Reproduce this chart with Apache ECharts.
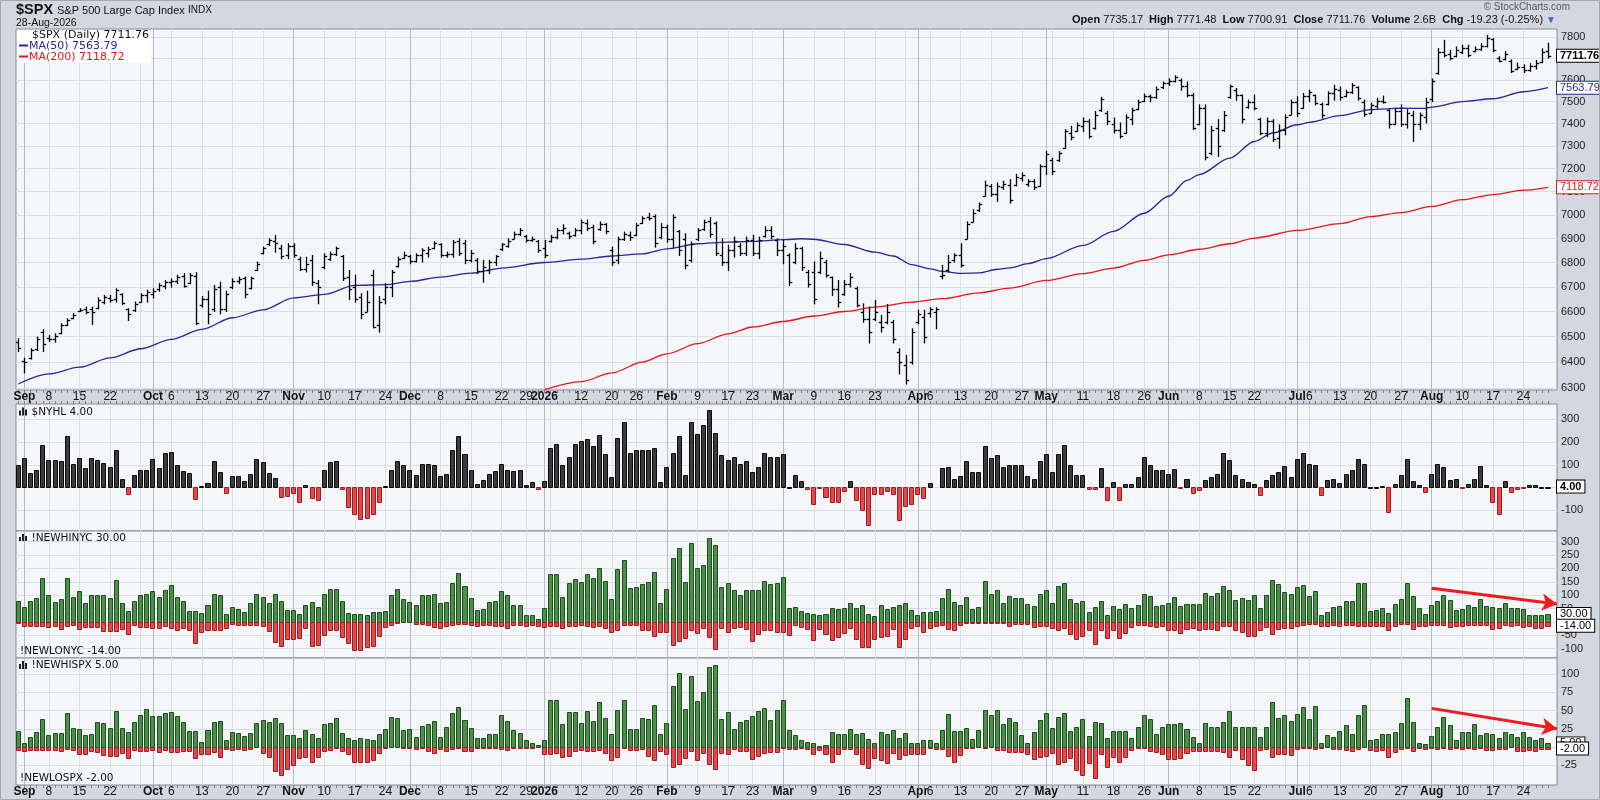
<!DOCTYPE html>
<html><head><meta charset="utf-8">
<script src="https://cdn.jsdelivr.net/npm/echarts@6/dist/echarts.min.js"></script>
<style>html,body{margin:0;padding:0;background:#d3d7df;}#chart{width:1600px;height:800px;}</style>
</head><body><div id="chart"></div>
<script>
// ---------- calendar (categories) ----------
const START_DATE = '2025-08-29', END_DATE = '2026-08-28';
const HOLIDAYS = ['2025-09-01','2025-11-27','2025-12-25','2026-01-01','2026-01-19','2026-02-16','2026-04-03','2026-05-25','2026-06-19','2026-07-03'];
const MONTH_NAMES = ['Jan','Feb','Mar','Apr','May','Jun','Jul','Aug','Sep','Oct','Nov','Dec'];

// ---------- price data ($SPX daily OHLC) ----------
const OPEN = [6480,6405,6415,6450,6520,6495,6490,6515,6548,6575,
6602,6610,6612,6615,6640,6655,6650,6670,6610,6605,
6640,6665,6670,6690,6705,6720,6725,6745,6715,6745,
6625,6650,6610,6700,6610,6700,6725,6735,6695,6770,
6840,6875,6890,6860,6830,6870,6815,6775,6810,6715,
6780,6815,6835,6825,6740,6700,6660,6600,6750,6545,
6650,6700,6785,6820,6825,6805,6830,6840,6860,6875,
6830,6835,6890,6880,6810,6810,6765,6770,6800,6855,
6870,6900,6920,6910,6895,6890,6860,6890,6905,6935,
6925,6915,6935,6965,6950,6940,6960,6850,6810,6900,
6915,6915,6965,6990,6995,6905,6950,6900,6930,6900,
6810,6900,6940,6975,6965,6830,6800,6850,6870,6840,
6895,6840,6910,6935,6895,6850,6830,6800,6860,6760,
6760,6760,6800,6740,6690,6670,6710,6695,6600,6570,
6570,6560,6560,6560,6440,6390,6400,6560,6580,6595,
6600,6745,6770,6810,6830,6900,6970,7020,7080,7125,
7090,7120,7130,7130,7160,7135,7145,7125,7210,7240,
7240,7290,7360,7365,7390,7410,7380,7460,7450,7400,
7370,7360,7420,7465,7505,7525,7520,7565,7585,7595,
7600,7570,7530,7400,7470,7270,7380,7370,7520,7555,
7530,7475,7500,7420,7360,7410,7335,7370,7440,7500,
7470,7525,7530,7490,7490,7540,7555,7525,7545,7565,
7500,7450,7480,7505,7460,7400,7455,7400,7440,7400,
7430,7510,7630,7730,7720,7710,7730,7750,7735,7745,
7760,7790,7700,7695,7690,7650,7660,7645,7665,7685,
7735.17];
const HIGH = [6491,6415,6452,6498,6527,6504,6511,6551,6571,6591,
6611,6618,6618,6655,6665,6665,6692,6672,6611,6638,
6672,6686,6692,6713,6726,6733,6747,6754,6754,6758,
6660,6682,6706,6719,6682,6733,6740,6740,6740,6802,
6864,6899,6913,6871,6878,6878,6822,6822,6829,6726,
6836,6843,6864,6829,6767,6747,6672,6682,6767,6660,
6713,6767,6822,6843,6829,6836,6857,6864,6887,6878,
6843,6892,6899,6892,6850,6816,6809,6809,6829,6878,
6899,6927,6942,6913,6906,6892,6892,6913,6942,6958,
6927,6942,6978,6978,6956,6970,6963,6864,6906,6927,
6927,6963,6992,7007,7000,6963,6956,7000,6934,6920,
6885,6942,6978,6989,6970,6899,6871,6906,6878,6906,
6913,6906,6949,6949,6899,6892,6836,6878,6864,6767,
6802,6843,6809,6740,6726,6726,6754,6699,6631,6618,
6645,6584,6628,6564,6452,6426,6531,6605,6605,6615,
6615,6788,6829,6836,6878,6970,7022,7051,7145,7130,
7138,7145,7152,7175,7182,7152,7152,7217,7275,7246,
7275,7373,7388,7403,7425,7418,7455,7519,7455,7425,
7403,7440,7470,7507,7534,7530,7567,7590,7604,7619,
7604,7590,7537,7485,7485,7388,7418,7455,7575,7560,
7530,7507,7530,7425,7425,7418,7395,7440,7507,7522,
7537,7552,7530,7493,7545,7575,7567,7552,7582,7567,
7507,7493,7515,7525,7463,7470,7485,7463,7455,7448,
7515,7604,7746,7785,7738,7754,7762,7762,7754,7769,
7808,7792,7708,7731,7693,7678,7670,7675,7690,7745,
7771.48];
const LOW = [6441,6358,6412,6445,6441,6481,6478,6511,6544,6571,
6600,6591,6548,6611,6631,6638,6638,6628,6564,6600,
6638,6638,6655,6682,6692,6699,6713,6699,6713,6548,
6618,6551,6600,6591,6600,6692,6713,6655,6692,6767,
6836,6871,6843,6816,6816,6822,6767,6761,6706,6631,
6774,6809,6829,6726,6648,6638,6571,6600,6535,6518,
6631,6660,6781,6816,6795,6802,6802,6822,6857,6822,
6822,6822,6829,6795,6802,6754,6719,6754,6788,6850,
6864,6899,6913,6885,6888,6843,6820,6885,6899,6920,
6899,6910,6920,6934,6878,6934,6920,6788,6795,6892,
6892,6913,6963,6978,6864,6899,6885,6864,6829,6774,
6802,6892,6934,6906,6829,6788,6767,6822,6829,6829,
6829,6816,6906,6899,6829,6795,6706,6795,6767,6699,
6631,6754,6740,6665,6618,6665,6699,6618,6557,6475,
6564,6518,6551,6475,6354,6315,6392,6551,6475,6578,
6531,6733,6761,6802,6781,6899,6970,7015,7080,7080,
7058,7110,7050,7125,7145,7123,7109,7123,7174,7174,
7232,7290,7327,7365,7365,7335,7376,7455,7395,7358,
7335,7358,7395,7463,7500,7500,7515,7560,7575,7590,
7552,7522,7373,7395,7239,7261,7254,7365,7515,7507,
7403,7470,7463,7350,7342,7320,7290,7350,7440,7433,
7470,7500,7485,7425,7485,7507,7507,7522,7537,7507,
7433,7448,7470,7493,7380,7395,7388,7380,7320,7373,
7403,7500,7626,7707,7693,7707,7723,7707,7731,7738,
7754,7731,7685,7693,7634,7648,7634,7640,7650,7680,
7700.91];
const CLOSE = [6455,6400,6448,6492,6470,6490,6502,6545,6565,6585,
6608,6600,6598,6648,6658,6645,6688,6635,6590,6630,
6665,6680,6685,6708,6720,6725,6740,6705,6748,6555,
6650,6590,6690,6610,6670,6725,6730,6670,6735,6795,
6860,6893,6880,6825,6870,6830,6775,6795,6720,6700,
6825,6835,6860,6735,6690,6650,6590,6640,6540,6640,
6700,6760,6815,6830,6805,6830,6850,6855,6880,6830,
6835,6885,6840,6810,6840,6765,6780,6800,6825,6875,
6890,6920,6935,6895,6900,6850,6830,6905,6935,6945,
6910,6935,6970,6945,6890,6962,6930,6800,6900,6920,
6905,6955,6985,6985,6880,6950,6900,6990,6850,6790,
6875,6935,6970,6920,6840,6800,6850,6890,6840,6895,
6840,6895,6935,6910,6850,6870,6720,6860,6780,6710,
6650,6820,6750,6690,6640,6710,6740,6625,6570,6520,
6600,6540,6600,6490,6400,6330,6520,6590,6500,6610,
6610,6750,6800,6830,6790,6960,7010,7045,7130,7090,
7125,7135,7065,7165,7170,7145,7120,7210,7265,7190,
7270,7365,7340,7395,7410,7345,7440,7510,7410,7370,
7345,7430,7460,7500,7525,7520,7560,7585,7595,7612,
7570,7530,7380,7470,7250,7370,7300,7440,7570,7530,
7420,7500,7470,7360,7410,7330,7370,7430,7500,7450,
7525,7545,7495,7440,7540,7560,7520,7545,7575,7515,
7445,7485,7505,7500,7400,7455,7400,7450,7400,7440,
7500,7595,7730,7715,7700,7740,7750,7715,7745,7760,
7795,7740,7690,7720,7640,7660,7645,7665,7680,7730.99,
7711.76];

// moving averages read at selected bars: [bar index, value]
const MA50 = [[0,6315],[5,6354],[10,6380],[15,6416],[20,6452],[25,6489],[30,6529],[35,6575],[40,6607],[45,6655],
[50,6669],[55,6706],[60,6709],[64,6722],[69,6740],[74,6756],[79,6777],[86,6800],[92,6814],[97,6827],
[102,6836],[106,6857],[111,6878],[116,6885],[120,6888],[125,6895],[128,6899],[130,6897],[135,6875],[140,6843],
[143,6827],[146,6791],[149,6774],[151,6763],[154,6755],[157,6757],[160,6772],[162,6778],[165,6795],[168,6816],
[174,6871],[179,6930],[184,7007],[188,7080],[191,7149],[193,7174],[198,7246],[202,7320],[205,7358],[209,7395],
[211,7406],[216,7436],[221,7463],[226,7470],[230,7469],[231,7475],[236,7500],[241,7513],[246,7545],[250,7563.79]];
const MA200 = [[86,6293],[92,6324],[97,6358],[102,6400],[106,6432],[111,6472],[116,6511],[120,6538],[125,6560],[130,6582],
[135,6600],[140,6618],[146,6638],[151,6652],[157,6675],[162,6695],[168,6726],[174,6754],[179,6777],[184,6809],
[188,6832],[193,6855],[198,6878],[202,6902],[209,6934],[216,6963],[221,6993],[226,7010],[231,7036],[236,7065],
[241,7087],[246,7106],[250,7118.72]];

// ---------- breadth data ----------
const NYHL = [101,131,64,79,187,119,119,116,225,105,
131,87,131,119,109,91,164,37,-30,57,
79,79,124,87,151,157,101,72,64,-51,
7,21,115,67,-25,52,49,30,61,124,
112,64,42,-40,-36,-25,-66,10,-48,-55,
79,112,115,-6,-85,-119,-137,-133,-119,-63,
7,79,116,101,75,57,105,105,100,49,
60,164,225,146,79,15,34,61,72,105,
79,72,79,12,24,-7,30,176,190,97,
136,190,203,212,181,230,149,46,216,288,
154,166,166,166,176,24,91,154,225,55,
288,234,275,342,240,142,122,136,105,118,
70,91,154,136,136,149,1,55,30,-7,
-75,-1,-40,-66,-66,-15,30,-55,-100,-164,
-30,-30,-15,-30,-145,-81,-75,-30,-48,19,
0,87,91,37,51,118,66,70,185,131,
145,91,101,97,100,49,37,115,146,70,
146,187,97,55,55,-7,-7,87,-55,25,
-55,15,15,46,136,97,75,75,61,82,
-3,37,-25,-10,33,46,61,154,122,55,
37,24,15,-33,33,55,66,96,46,125,
154,105,100,-34,31,37,19,60,75,127,
105,1,1,7,-110,15,55,127,30,10,
-21,60,105,91,34,37,-3,15,37,96,
10,-64,-118,30,-19,-7,-1,10,10,3,
4];
const NEWHI_NYC = [80,56,80,90,165,99,76,86,165,94,
116,72,99,101,101,90,157,69,39,80,
101,104,116,94,120,139,94,79,40,41,
34,64,104,99,30,56,49,38,69,103,
94,71,105,80,43,46,30,64,76,56,
105,124,124,80,34,30,30,26,36,36,
41,99,124,84,74,65,101,99,105,71,
74,144,184,134,89,46,49,74,78,116,
99,64,64,26,26,9,52,178,178,94,
146,161,149,178,165,203,154,84,199,233,
125,131,140,150,188,69,124,240,278,151,
296,203,211,315,289,131,146,120,99,120,
121,121,154,140,146,169,52,55,39,34,
30,24,28,52,48,52,71,52,63,30,
21,63,49,56,65,71,43,26,38,38,
39,89,124,76,64,94,49,56,153,106,
120,69,96,90,90,68,59,105,120,71,
134,146,86,71,78,38,56,79,26,59,
49,66,53,63,105,96,59,64,69,94,
60,66,66,66,109,96,109,134,120,81,
91,81,100,52,100,156,140,113,105,131,
139,96,115,25,38,56,59,78,78,146,
146,39,44,51,34,66,86,146,96,51,
30,64,79,100,81,46,48,64,56,86,
59,54,52,71,52,52,49,26,26,26,
30];
const NEWLO_NYC = [-4,-16,-16,-14,-16,-20,-14,-26,-14,-12,
-26,-20,-20,-19,-34,-34,-34,-26,-45,-12,
-19,-19,-24,-24,-16,-24,-29,-24,-29,-79,
-38,-31,-29,-31,-24,-9,-12,-12,-11,-11,
-16,-34,-75,-89,-64,-64,-61,-24,-89,-85,
-49,-31,-31,-56,-79,-106,-106,-94,-89,-51,
-19,-10,-4,0,0,-9,-9,-12,-19,-24,
-16,-12,-6,-9,-12,-14,-12,-12,-16,-16,
-24,-12,-12,-16,-12,-16,-19,-16,-14,-22,
-16,-14,-10,-16,-19,-14,-22,-38,-29,-12,
-10,-10,-32,-32,-54,-38,-38,-85,-73,-60,
-31,-41,-24,-56,-101,-24,-38,-24,-18,-26,
-71,-45,-31,-31,-38,-38,-48,-12,-19,-26,
-66,-26,-45,-66,-56,-41,-22,-63,-94,-94,
-63,-56,-54,-26,-94,-63,-24,-16,-38,-24,
-16,-12,-26,-29,-12,-3,-3,-3,-3,-3,
-5,-4,-14,-8,-8,-8,-20,-16,-14,-22,
-29,-22,-44,-64,-51,-29,-83,-29,-60,-29,
-60,-41,-20,-12,-10,-16,-20,-16,-29,-29,
-41,-26,-24,-29,-26,-26,-31,-16,-16,-29,
-38,-51,-51,-29,-20,-45,-26,-24,-24,-16,
-10,-6,-6,-16,-16,-12,-16,-12,-12,-16,
-16,-16,-16,-16,-32,-16,-6,-6,-26,-16,
-16,-12,-12,-12,-19,-16,-16,-12,-12,-12,
-12,-26,-24,-12,-16,-12,-19,-15,-24,-24,
-14];
const NEWHI_SPX = [22,6,14,21,39,17,19,19,47,26,
25,17,18,34,33,26,50,26,20,34,
44,52,43,43,46,48,42,35,22,22,
7,23,34,36,10,21,19,15,19,33,
37,34,40,33,16,16,12,23,18,13,
32,33,40,19,13,9,12,11,9,18,
25,41,40,24,25,14,29,32,36,14,
28,47,55,37,26,12,12,18,18,44,
36,24,19,9,6,3,10,65,65,31,
48,48,33,50,36,62,40,18,51,65,
25,25,40,39,58,18,33,84,101,52,
97,63,75,109,113,39,48,25,34,37,
43,50,54,37,51,64,23,17,9,7,
5,2,3,21,18,18,25,18,19,11,
6,21,18,23,12,19,6,6,9,9,
6,24,45,22,22,26,11,23,51,44,
51,31,40,34,17,5,21,37,47,26,
41,46,22,28,38,15,35,33,13,22,
22,22,12,28,44,39,18,28,32,32,
33,25,14,6,33,27,28,35,50,28,
28,28,28,14,28,62,40,44,36,45,
55,39,56,6,17,14,22,30,18,44,
58,9,11,18,18,21,33,67,35,6,
4,15,27,41,30,9,20,21,32,17,
19,18,12,21,18,14,21,14,9,12,
5];
const NEWLO_SPX = [-4,-5,-4,-4,-4,-4,-4,-6,-3,-4,
-9,-9,-6,-7,-11,-12,-12,-8,-15,-4,
-5,-5,-4,-7,-4,-7,-7,-5,-5,-15,
-9,-9,-7,-14,-3,-4,-3,-4,-3,0,
-8,-14,-33,-38,-30,-24,-15,-14,-21,-13,
-6,-4,-1,-6,-9,-20,-20,-20,-18,-8,
-1,0,0,-1,-1,-3,-1,-5,-8,-3,
-6,-3,-1,-5,-5,-1,-1,-1,-1,-3,
-4,-1,-1,-1,-1,0,-9,-9,-8,-14,
-12,-5,-4,-5,-5,-4,-8,-18,-13,-1,
-4,-4,-3,-12,-18,-5,-9,-27,-23,-15,
-6,-18,-8,-23,-30,-8,-9,-3,-5,-6,
-16,-12,-8,-7,-7,-1,-3,-3,-1,-3,
-9,-4,-9,-20,-9,-3,-3,-9,-23,-29,
-15,-18,-22,-8,-16,-11,-9,-9,-9,-1,
-3,-3,-12,-21,-11,-1,-1,0,-1,0,
-4,-4,-7,-7,-7,-9,-17,-13,-12,-8,
-23,-21,-15,-31,-38,-22,-43,-9,-28,-14,
-20,-13,-4,-1,-1,-6,-7,-9,-17,-17,
-15,-8,-5,-6,-5,-5,-5,-7,-13,-4,
-17,-24,-31,-4,-3,-13,-9,-9,-11,-3,
-1,-1,-3,-1,0,-3,-3,-4,-6,-3,
0,-4,-5,-4,-13,-7,-3,-1,-5,-1,
-3,-1,-3,-1,-3,-1,-3,-1,-3,-1,
-4,-4,-3,-3,0,-5,-5,-4,-6,-3,
-2];

// trend annotations: [bar index, value] start/end
const TREND_NYC = [[231,126],[251.47,67]];
const TREND_SPX = [[231,53],[251.47,25]];

// axis ticks
const PRICE_TICKS = [6300,6400,6500,6600,6700,6800,6900,7000,7100,7200,7300,7400,7500,7600,7700,7800];
const NYHL_TICKS = [-100,0,100,200,300];
const NYC_TICKS = [-100,-50,0,50,100,150,200,250,300];
const SPX_TICKS = [-25,0,25,50,75,100];

// ---------- build categories ----------
function buildDates(){
  const out = []; const hol = new Set(HOLIDAYS);
  let d = new Date(START_DATE + 'T00:00:00Z'); const e = new Date(END_DATE + 'T00:00:00Z');
  while (d <= e) {
    const wd = d.getUTCDay(); const s = d.toISOString().slice(0,10);
    if (wd !== 0 && wd !== 6 && !hol.has(s)) out.push(new Date(d.getTime()));
    d = new Date(d.getTime() + 86400000);
  }
  return out;
}
const DATES = buildDates();
const monthStart = [], weekStart = [];
for (let i = 1; i < DATES.length; i++) {
  const d = DATES[i], p = DATES[i-1];
  if (d.getUTCMonth() !== p.getUTCMonth()) monthStart.push(i);
  if (d.getUTCDay() < p.getUTCDay()) weekStart.push(i);
}
const msSet = new Set(monthStart);
const LABELS = {};
monthStart.forEach(i => { const d = DATES[i]; LABELS[i] = '{b|' + (d.getUTCMonth() === 0 ? d.getUTCFullYear() : MONTH_NAMES[d.getUTCMonth()]) + '}'; });
weekStart.forEach(i => { if (msSet.has(i) || msSet.has(i+1) || msSet.has(i+2) || msSet.has(i-1)) return; LABELS[i] = '{n|' + DATES[i].getUTCDate() + '}'; });
const LABEL_IDX = Object.keys(LABELS).map(Number).sort((a,b)=>a-b);
const WEEK_IDX = weekStart.slice();
const MONTH_IDX = monthStart.slice();
const BAR_IDX = DATES.map((d, i) => i);

// ---------- layout / style ----------
const X_MIN = -0.38, X_MAX = 251.47;
const FONT = 'Liberation Sans';
const GRID_BASE = {left:16, right:43, show:true, backgroundColor:'#f4f6fa', borderColor:'#878b96', borderWidth:1, containLabel:false, outerBoundsMode:'none'};
const grids = [
  Object.assign({top:29, height:361}, GRID_BASE),
  Object.assign({top:404, height:127}, GRID_BASE),
  Object.assign({top:531, height:127}, GRID_BASE),
  Object.assign({top:658, height:127}, GRID_BASE)
];
const LIGHT = '#dcdee5', DARK = '#b7bbc6';

function xAxesFor(gi, labels, margin, tickPos){
  const week = {
    type:'value', gridIndex:gi, min:X_MIN, max:X_MAX, position:'bottom',
    axisLine:{show:false}, axisTick:{show:false, customValues:WEEK_IDX},
    splitLine:{show:true, lineStyle:{color:LIGHT, width:1}},
    axisLabel: labels ? {
      show:true, customValues:LABEL_IDX, margin:margin,
      formatter: v => LABELS[Math.round(v)] || '',
      rich:{ b:{fontWeight:'bold', fontSize:12, fontFamily:FONT, color:'#111'}, n:{fontSize:12, fontFamily:FONT, color:'#111'} }
    } : {show:false}
  };
  const month = {
    type:'value', gridIndex:gi, min:X_MIN, max:X_MAX, position:'bottom',
    axisLine:{show:false}, axisTick:{show:false, customValues:MONTH_IDX},
    splitLine:{show:true, lineStyle:{color:DARK, width:1}}, axisLabel:{show:false}
  };
  const out = [week, month];
  if (tickPos) {
    out.push({
      type:'value', gridIndex:gi, min:X_MIN, max:X_MAX, position:tickPos,
      axisLine:{show:false}, splitLine:{show:false}, axisLabel:{show:false},
      axisTick:{show:true, customValues:BAR_IDX, length:3, inside:false, lineStyle:{color:'#7d818b', width:1}}
    });
  }
  return out;
}
function yAxisFor(gi, type, min, max, ticks){
  return {
    type:type, gridIndex:gi, min:min, max:max, position:'right',
    axisLine:{show:false}, axisTick:{show:false, customValues:ticks},
    splitLine:{show:true, lineStyle:{color:LIGHT, width:1}},
    axisLabel:{show:true, customValues:ticks, margin:4, fontSize:11, fontFamily:FONT, color:'#222', formatter: v => String(Math.round(v))}
  };
}

function tagItem(val, text, color, bold){
  return [
    {coord:[249.8, val], symbol:'none', lineStyle:{color:'rgba(0,0,0,0)', width:1, opacity:1},
     label:{show:true, position:'end', distance:0, formatter:text, color:color, fontSize:11, fontFamily:FONT, opacity:1,
            fontWeight: bold ? 'bold' : 'normal', backgroundColor:'#fff', borderColor:color, borderWidth:1, padding:[1,3,0,3]}},
    {coord:[X_MAX, val], symbol:'none'}
  ];
}
function arrowItem(tr){
  return [
    {coord:tr[0], symbol:'none', lineStyle:{color:'#f21a1a', width:3, opacity:1, type:'solid'}, label:{show:false}},
    {coord:tr[1], symbol:'arrow', symbolSize:[13,15]}
  ];
}
function markLines(items){
  return {silent:true, animation:false, symbol:['none','none'], data:items};
}

function barSeries(xi, yi, vals, posFill, posStroke, negFill, negStroke, marks){
  const s = {
    type:'custom', xAxisIndex:xi, yAxisIndex:yi, clip:true, silent:true,
    data: vals.map((v,i)=>[i,v]), encode:{x:0, y:1},
    renderItem(params, api){
      const n = api.value(0), v = api.value(1);
      if (!v) return null;
      const a = api.coord([n - 0.41, 0]), b = api.coord([n + 0.41, v]);
      const xl = Math.round(a[0]) + 0.5, xr = Math.round(b[0]) - 0.5;
      const y0 = Math.round(a[1]) + 0.5, y1 = Math.round(b[1]) + 0.5;
      const neg = v < 0;
      return {type:'rect', shape:{x:xl, y:Math.min(y0,y1), width:Math.max(1, xr - xl), height:Math.max(1, Math.abs(y1 - y0))},
              style:{fill: neg ? negFill : posFill, stroke: neg ? negStroke : posStroke, lineWidth:1}};
    }
  };
  if (marks) s.markLine = markLines(marks);
  return s;
}

const GREEN = '#4b8f48', GREEN_S = '#1c4f1c', RED = '#e6474a', RED_S = '#a51c1c', BLK = '#3b3b3b', BLK_S = '#0a0a0a';

const ohlcSeries = {
  type:'custom', xAxisIndex:0, yAxisIndex:0, clip:true, silent:true, z:3,
  data: OPEN.map((o,i)=>[i, o, HIGH[i], LOW[i], CLOSE[i]]),
  encode:{x:0, y:[1,2,3,4]},
  renderItem(params, api){
    const n = api.value(0);
    const o = api.coord([n, api.value(1)]), h = api.coord([n, api.value(2)]);
    const l = api.coord([n, api.value(3)]), c = api.coord([n, api.value(4)]);
    const w = (api.coord([n + 1, api.value(4)])[0] - c[0]) * 0.45;
    const x = Math.round(h[0]) + 0.5;
    const st = {stroke:'#000', lineWidth:1.3};
    const yo = Math.round(o[1]) + 0.5, yc = Math.round(c[1]) + 0.5;
    return {type:'group', children:[
      {type:'line', shape:{x1:x, y1:h[1] - 0.5, x2:x, y2:l[1] + 0.5}, style:st},
      {type:'line', shape:{x1:x - w, y1:yo, x2:x, y2:yo}, style:st},
      {type:'line', shape:{x1:x, y1:yc, x2:x + w, y2:yc}, style:st}
    ]};
  },
  markLine: markLines([tagItem(CLOSE[CLOSE.length-1], '7711.76', '#000', true)])
};

const option = {
  animation:false,
  backgroundColor:'#d3d7df',
  grid: grids,
  xAxis: [].concat(xAxesFor(0, true, 1, 'bottom'), xAxesFor(1, false, 0, 'top'), xAxesFor(2, false, 0, null), xAxesFor(3, true, 1, 'bottom')),
  yAxis: [
    yAxisFor(0, 'log', 6292, 7839, PRICE_TICKS),
    yAxisFor(1, 'value', -192, 368, NYHL_TICKS),
    yAxisFor(2, 'value', -135, 340, NYC_TICKS),
    yAxisFor(3, 'value', -52, 122, SPX_TICKS)
  ],
  series: [
    {type:'line', name:'MA(200)', xAxisIndex:0, yAxisIndex:0, data:MA200, symbol:'none', smooth:0.3, smoothMonotone:'x', clip:true, silent:true, z:2,
     lineStyle:{color:'#e8151b', width:1.3}, markLine: markLines([tagItem(7118.72, '7118.72', '#e8151b', false)])},
    {type:'line', name:'MA(50)', xAxisIndex:0, yAxisIndex:0, data:MA50, symbol:'none', smooth:0.3, smoothMonotone:'x', clip:true, silent:true, z:2,
     lineStyle:{color:'#27279a', width:1.3}, markLine: markLines([tagItem(7563.79, '7563.79', '#27279a', false)])},
    ohlcSeries,
    barSeries(3, 1, NYHL, BLK, BLK_S, RED, RED_S, [tagItem(4, '4.00', '#000', true)]),
    barSeries(6, 2, NEWHI_NYC, GREEN, GREEN_S, RED, RED_S, [arrowItem(TREND_NYC), tagItem(30, '30.00', '#000', false)]),
    barSeries(6, 2, NEWLO_NYC, GREEN, GREEN_S, RED, RED_S, [tagItem(-14, '-14.00', '#000', false)]),
    barSeries(8, 3, NEWHI_SPX, GREEN, GREEN_S, RED, RED_S, [arrowItem(TREND_SPX), tagItem(5, '5.00', '#000', false)]),
    barSeries(8, 3, NEWLO_SPX, GREEN, GREEN_S, RED, RED_S, [tagItem(-2, '-2.00', '#000', false)])
  ],
  graphic: []
};

// ---------- header, legend and panel captions ----------
function txt(x, y, text, font, fill, extra){
  return {type:'text', x:x, y:y, z:100, silent:true, style:Object.assign({text:text, font:font, fill:fill, verticalAlign:'middle'}, extra || {})};
}
function barIcon(x, y){
  return {type:'group', x:x, y:y, z:100, silent:true, children:[
    {type:'rect', shape:{x:0, y:3, width:2, height:5}, style:{fill:'#222'}},
    {type:'rect', shape:{x:3, y:0, width:2, height:8}, style:{fill:'#222'}},
    {type:'rect', shape:{x:6, y:2, width:2, height:6}, style:{fill:'#222'}}
  ]};
}
const G = option.graphic;
G.push({type:'rect', z:99, silent:true, shape:{x:0.5, y:0.5, width:1599, height:799}, style:{fill:'none', stroke:'#a3a7b0', lineWidth:1}});
G.push(txt(16, 10, '$SPX', 'bold 14.5px "Liberation Sans"', '#111'));
G.push(txt(57, 10.5, 'S&P 500 Large Cap Index', '11px "Liberation Sans"', '#111'));
G.push(txt(188, 10.5, 'INDX', '10px "Liberation Sans"', '#111'));
G.push(txt(16, 23.5, '28-Aug-2026', '10.5px "Liberation Sans"', '#111'));
G.push(txt(1570, 7, '\u00A9 StockCharts.com', '10px "Liberation Sans"', '#555', {align:'right'}));
G.push({type:'text', x:1556, y:20, z:100, silent:true, style:{
  text:'{b|Open} 7735.17  {b|High} 7771.48  {b|Low} 7700.91  {b|Close} 7711.76  {b|Volume} 2.6B  {b|Chg} -19.23 (-0.25%) {t|\u25BC}',
  fontSize:11, fontFamily:FONT, fill:'#111', align:'right', verticalAlign:'middle',
  rich:{b:{fontWeight:'bold', fontSize:11, fontFamily:FONT, fill:'#111'}, t:{fontSize:10, fill:'#4a68a8'}}
}});
// legend box in price panel
G.push({type:'rect', z:99, silent:true, shape:{x:17, y:30, width:134, height:33}, style:{fill:'#ffffff'}});
G.push({type:'group', x:19, y:31, z:100, silent:true, children:[
  {type:'line', shape:{x1:2.5, y1:1, x2:2.5, y2:9}, style:{stroke:'#111', lineWidth:1}},
  {type:'line', shape:{x1:0, y1:3.5, x2:2.5, y2:3.5}, style:{stroke:'#111', lineWidth:1}},
  {type:'line', shape:{x1:2.5, y1:6.5, x2:5, y2:6.5}, style:{stroke:'#111', lineWidth:1}},
  {type:'line', shape:{x1:7.5, y1:2, x2:7.5, y2:10}, style:{stroke:'#111', lineWidth:1}},
  {type:'line', shape:{x1:5, y1:7.5, x2:7.5, y2:7.5}, style:{stroke:'#111', lineWidth:1}},
  {type:'line', shape:{x1:7.5, y1:4.5, x2:10, y2:4.5}, style:{stroke:'#111', lineWidth:1}}
]});
G.push(txt(32, 35.5, '$SPX (Daily) 7711.76', '11px "DejaVu Sans"', '#111'));
G.push({type:'line', z:100, silent:true, shape:{x1:19, y1:45.5, x2:28, y2:45.5}, style:{stroke:'#27279a', lineWidth:2}});
G.push(txt(29, 46, 'MA(50) 7563.79', '11px "DejaVu Sans"', '#27279a'));
G.push({type:'line', z:100, silent:true, shape:{x1:19, y1:56.5, x2:28, y2:56.5}, style:{stroke:'#e8151b', lineWidth:2}});
G.push(txt(29, 57, 'MA(200) 7118.72', '11px "DejaVu Sans"', '#e8151b'));
// panel captions
G.push(barIcon(19, 407.5));
G.push(txt(31.5, 412, '$NYHL 4.00', '10.5px "DejaVu Sans"', '#111'));
G.push(barIcon(19, 534));
G.push(txt(31.5, 538.5, '!NEWHINYC 30.00', '10.5px "DejaVu Sans"', '#111'));
G.push(txt(20, 651, '!NEWLONYC -14.00', '10.5px "DejaVu Sans"', '#111'));
G.push(barIcon(19, 661));
G.push(txt(31.5, 665.5, '!NEWHISPX 5.00', '10.5px "DejaVu Sans"', '#111'));
G.push(txt(20, 778.5, '!NEWLOSPX -2.00', '10.5px "DejaVu Sans"', '#111'));

const chart = echarts.init(document.getElementById('chart'), null, {renderer:'canvas', width:1600, height:800});
chart.setOption(option);
</script></body></html>
